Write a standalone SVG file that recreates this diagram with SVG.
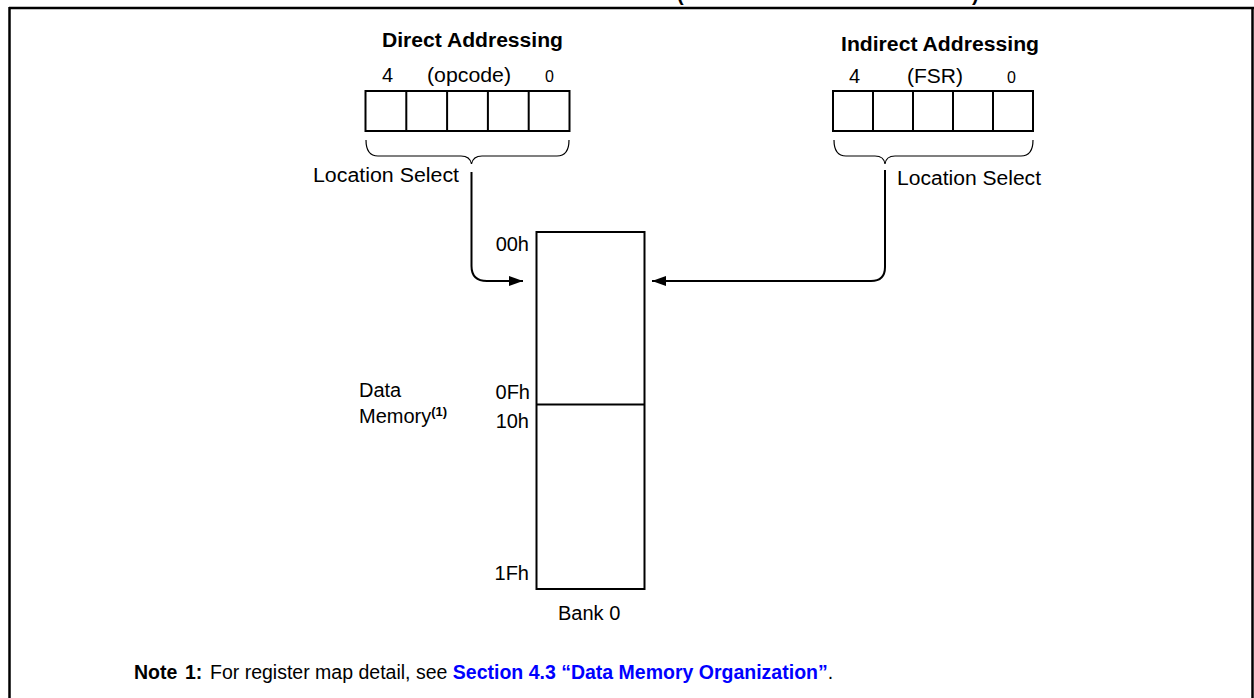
<svg xmlns="http://www.w3.org/2000/svg" width="1254" height="698" viewBox="0 0 1254 698">
<style>
  text { font-family: "Liberation Sans", Arial, sans-serif; fill: #000; }
  .title { font-size: 20px; font-weight: bold; }
  .lbl { font-size: 20px; }
  .small { font-size: 16px; }
  .box { fill: #fff; stroke: #000; stroke-width: 2; }
  .cell { stroke: #000; stroke-width: 2; fill: none; }
  .brace { fill: none; stroke: #000; stroke-width: 1.2; }
  .wire { fill: none; stroke: #000; stroke-width: 2; }
  .frame { stroke: #000; stroke-width: 2.5; fill: none; }
  .note { font-size: 19.5px; }
  .blue { fill: #0000ff; font-weight: bold; }
</style>
<defs>
  <marker id="arrow" markerUnits="userSpaceOnUse" markerWidth="16" markerHeight="12" refX="14" refY="5" orient="auto">
    <path d="M0,0 L14,5 L0,10 Z" fill="#000"/>
  </marker>
</defs>
<rect width="1254" height="698" fill="#fff"/>
<g id="frame">
  <line class="frame" x1="9" y1="8" x2="1254" y2="8"/>
  <line class="frame" x1="9.5" y1="7" x2="9.5" y2="698"/>
  <line class="frame" x1="1252.5" y1="7" x2="1252.5" y2="698"/>
  <text class="title" x="677" y="1" font-size="20">(</text>
  <text class="title" x="972" y="1" font-size="20">)</text>
</g>
<g id="direct">
  <text class="title" x="382" y="47" textLength="181" lengthAdjust="spacingAndGlyphs">Direct Addressing</text>
  <text class="lbl" x="382" y="82">4</text>
  <text class="lbl" x="427" y="82" textLength="84" lengthAdjust="spacingAndGlyphs">(opcode)</text>
  <text class="small" x="545" y="82">0</text>
  <rect class="box" x="365.5" y="91" width="204" height="40"/>
  <path class="cell" d="M406.3,91V131M447.1,91V131M487.9,91V131M528.7,91V131"/>
  <path class="brace" d="M366,140 Q366,156 378,156 L461,156 Q470,156 471.5,164 Q473,156 482,156 L557,156 Q569,156 569,140"/>
  <text class="lbl" x="313" y="182" textLength="146" lengthAdjust="spacingAndGlyphs">Location Select</text>
</g>
<g id="indirect">
  <text class="title" x="841" y="51" textLength="198" lengthAdjust="spacingAndGlyphs">Indirect Addressing</text>
  <text class="lbl" x="849" y="83">4</text>
  <text class="lbl" x="907" y="83" textLength="56" lengthAdjust="spacingAndGlyphs">(FSR)</text>
  <text class="small" x="1007" y="83">0</text>
  <rect class="box" x="833" y="91" width="200" height="40"/>
  <path class="cell" d="M873,91V131M913,91V131M953,91V131M993,91V131"/>
  <path class="brace" d="M834,140 Q834,156 846,156 L875,156 Q884,156 885,164 Q886,156 895,156 L1021,156 Q1033,156 1033,140"/>
  <text class="lbl" x="897" y="185" textLength="144" lengthAdjust="spacingAndGlyphs">Location Select</text>
</g>
<g id="memory">
  <rect class="box" x="536.5" y="232" width="108" height="357"/>
  <line class="cell" x1="536.5" y1="404.5" x2="644.5" y2="404.5"/>
  <text class="lbl" x="529" y="251" text-anchor="end">00h</text>
  <text class="lbl" x="530" y="399" text-anchor="end">0Fh</text>
  <text class="lbl" x="529" y="428" text-anchor="end">10h</text>
  <text class="lbl" x="529" y="580" text-anchor="end">1Fh</text>
  <text class="lbl" x="558" y="620">Bank 0</text>
</g>
<g id="data-memory-label">
  <text class="lbl" x="359" y="397">Data</text>
  <text class="lbl" x="359" y="423">Memory<tspan font-weight="bold" font-size="13" dy="-7">(1)</tspan></text>
</g>
<g id="connectors">
  <path class="wire" d="M471.5,172 L471.5,266 Q471.5,281 487,281 L523,281" marker-end="url(#arrow)"/>
  <path class="wire" d="M885,170 L885,267 Q885,281 871,281 L652,281" marker-end="url(#arrow)"/>
</g>
<g id="note">
  <text class="note" x="134" y="679" font-weight="bold">Note</text>
  <text class="note" x="185" y="679" font-weight="bold">1:</text>
  <text class="note" x="210" y="679">For register map detail, see <tspan class="blue">Section 4.3 “Data Memory Organization”</tspan>.</text>
</g>
</svg>
